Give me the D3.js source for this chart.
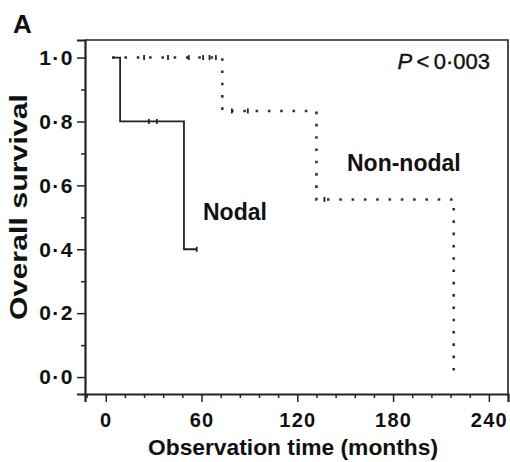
<!doctype html>
<html>
  <head>
    <meta charset="utf-8">
    <title>Survival</title>
    <script src="https://cdn.jsdelivr.net/npm/d3@7"></script>
    <style>
      body { margin: 0; background: #fff; }
      text { font-family: "Liberation Sans", Arial, sans-serif; fill: #111; }
    </style>
  </head>
  <body>
    <script>
      // 节点组 (solid) : time points and survival
      const nodalTime = [4, 9, 49, 57];
      const nodalSurv = [1.0, 0.8, 0.4, 0.4];
      const nodalCensor = [27, 32, 57];

      // 非节点组 (dotted)
      const nonNodalTime = [4, 73, 132, 218];
      const nonNodalSurv = [1.0, 0.833, 0.556, 0.0];
      const nonNodalCensor = [24, 39, 52, 61, 65, 69, 79, 89, 137];

      const xTicks = [0, 60, 120, 180, 240];
      const yTicks = [0, 0.2, 0.4, 0.6, 0.8, 1.0];

      const width = 510, height = 462;
      const margin = {left: 85, right: 2, top: 40, bottom: 68};

      const svg = d3.select('body').append('svg')
          .attr('width', width)
          .attr('height', height);

      const x = d3.scaleLinear().domain([-13, 252]).range([margin.left, width - margin.right]);
      const y = d3.scaleLinear().domain([-0.053, 1.055]).range([height - margin.bottom, margin.top]);

      const fmt = d => d3.format('.1f')(d).replace('.', '·');

      // frame (top / right)
      svg.append('path')
        .attr('d', `M${x.range()[0]},${y.range()[1]}H${x.range()[1]}V${y.range()[0]}`)
        .attr('fill', 'none')
        .attr('stroke', '#222')
        .attr('stroke-width', 1.6);

      // minor ticks
      svg.append('g')
        .attr('transform', `translate(${margin.left},0)`)
        .call(d3.axisLeft(y).tickValues(d3.range(0.1, 1.0, 0.2)).tickSize(4).tickFormat(''))
        .call(g => g.select('.domain').remove())
        .selectAll('line').attr('stroke', '#222').attr('stroke-width', 1.5);

      svg.append('g')
        .attr('transform', `translate(0,${y.range()[0]})`)
        .call(d3.axisBottom(x).tickValues(d3.range(-12, 253, 12).filter(v => v % 60 !== 0)).tickSize(4).tickFormat(''))
        .call(g => g.select('.domain').remove())
        .selectAll('line').attr('stroke', '#222').attr('stroke-width', 1.5);

      // y axis
      const yAxis = svg.append('g')
        .attr('transform', `translate(${margin.left},0)`)
        .call(d3.axisLeft(y).tickValues(yTicks).tickSize(8).tickPadding(3).tickFormat(fmt));
      yAxis.select('.domain').attr('stroke', '#222').attr('stroke-width', 2.2);
      yAxis.selectAll('line').attr('stroke', '#222').attr('stroke-width', 1.5);
      yAxis.selectAll('text')
        .style('font-size', '21px').style('font-weight', 'bold')
        .style('letter-spacing', '1.5px').attr('fill', '#111');

      // x axis
      const xAxis = svg.append('g')
        .attr('transform', `translate(0,${y.range()[0]})`)
        .call(d3.axisBottom(x).tickValues(xTicks).tickSize(8).tickPadding(11));
      xAxis.select('.domain').attr('stroke', '#222').attr('stroke-width', 2.2);
      xAxis.selectAll('line').attr('stroke', '#222').attr('stroke-width', 1.5);
      xAxis.selectAll('text')
        .style('font-size', '20px').style('font-weight', 'bold')
        .style('letter-spacing', '1.2px').attr('fill', '#111');

      // curves
      const line = d3.line()
        .x(d => x(d[0]))
        .y(d => y(d[1]))
        .curve(d3.curveStepAfter);

      const nodal = nodalTime.map((t, i) => [t, nodalSurv[i]]);
      const nonNodal = nonNodalTime.map((t, i) => [t, nonNodalSurv[i]]);
      nonNodal.push([nonNodalTime[nonNodalTime.length - 1], nonNodalSurv[nonNodalSurv.length - 1]]);

      svg.append('path')
        .datum(nonNodal)
        .attr('d', line)
        .attr('fill', 'none')
        .attr('stroke', '#333')
        .attr('stroke-width', 2.6)
        .attr('stroke-dasharray', '2.6,9.7');

      svg.append('path')
        .datum(nodal)
        .attr('d', line)
        .attr('fill', 'none')
        .attr('stroke', '#222')
        .attr('stroke-width', 1.8);

      // censor marks
      const survAt = (times, surv, t) => surv[d3.bisectRight(times, t) - 1];

      svg.append('g')
        .selectAll('line')
        .data(nodalCensor.map(t => [t, survAt(nodalTime, nodalSurv, t)])
          .concat(nonNodalCensor.map(t => [t, survAt(nonNodalTime, nonNodalSurv, t)])))
        .enter().append('line')
          .attr('x1', d => x(d[0])).attr('x2', d => x(d[0]))
          .attr('y1', d => y(d[1]) - 2.5).attr('y2', d => y(d[1]) + 2.5)
          .attr('stroke', '#222')
          .attr('stroke-width', 1.8);

      // texts
      svg.append('text')
        .attr('x', 13).attr('y', 33)
        .style('font-size', '26px').style('font-weight', 'bold')
        .text('A');

      const p = svg.append('text')
        .attr('x', 490).attr('y', 69)
        .attr('text-anchor', 'end')
        .style('font-size', '22px')
        .attr('stroke', '#111').attr('stroke-width', 0.4);
      p.append('tspan').style('font-style', 'italic').text('P');
      p.append('tspan').text('\u2009<\u20090·003');

      svg.append('text')
        .attr('x', 347).attr('y', 171)
        .style('font-size', '23px').style('font-weight', 'bold')
        .text('Non-nodal');

      svg.append('text')
        .attr('x', 203).attr('y', 220)
        .style('font-size', '23px').style('font-weight', 'bold')
        .text('Nodal');

      svg.append('text')
        .attr('x', 293).attr('y', 455)
        .attr('text-anchor', 'middle')
        .attr('textLength', 290)
        .attr('lengthAdjust', 'spacingAndGlyphs')
        .style('font-size', '22px').style('font-weight', 'bold')
        .text('Observation time (months)');

      svg.append('text')
        .attr('transform', 'translate(27,207) rotate(-90)')
        .attr('text-anchor', 'middle')
        .attr('textLength', 226)
        .attr('lengthAdjust', 'spacingAndGlyphs')
        .style('font-size', '23px').style('font-weight', 'bold')
        .text('Overall survival');
    </script>
  </body>
</html>
